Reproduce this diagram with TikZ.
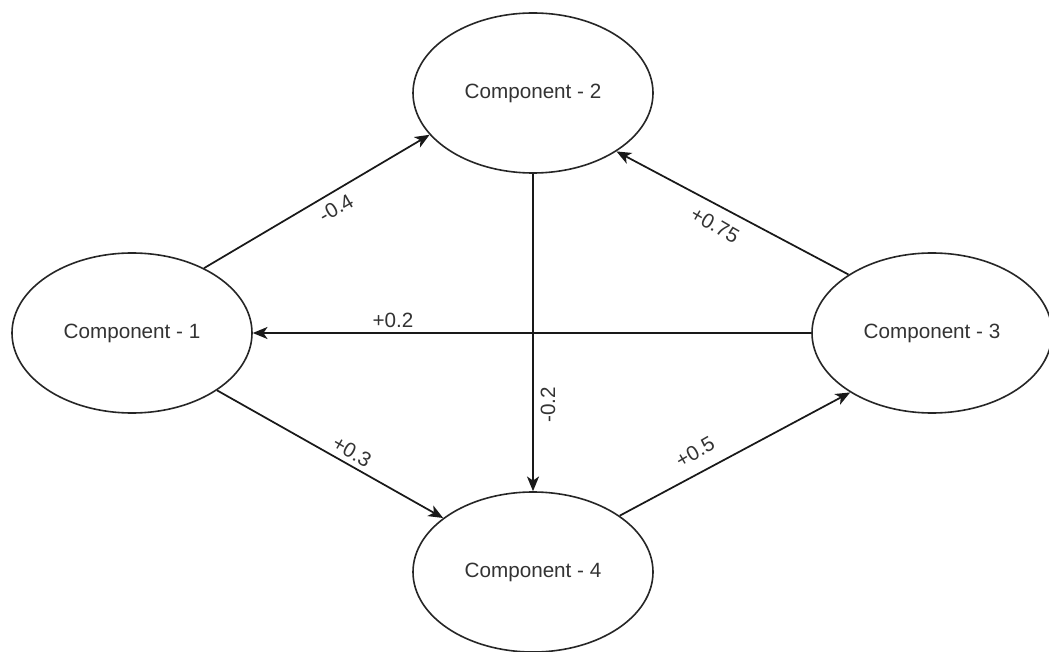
\documentclass[tikz,border=0pt]{standalone}
\usepackage{fontspec}
\setmainfont{Liberation Sans}
\usetikzlibrary{shapes.geometric,arrows.meta}
\begin{document}
\begin{tikzpicture}[x=0.75pt,y=-0.75pt,
  comp/.style={draw=black!85,line width=1.2pt,ellipse,minimum width=180pt,minimum height=120pt,inner sep=0pt,font=\fontsize{15.5pt}{18pt}\selectfont,text=black!80},
  conn/.style={draw=black!90,line width=1.3pt,-{Stealth[length=11pt,width=9pt,inset=3pt]}},
  wlab/.style={font=\fontsize{15.5pt}{18pt}\selectfont,text=black!80,inner sep=0pt}]
\useasboundingbox (0,0) rectangle (1049,652);
\fill[white] (0,0) rectangle (1049,652);
\node[comp] (c1) at (132,333) {Component - 1};
\node[comp] (c2) at (533,93) {Component - 2};
\node[comp] (c3) at (932,333) {Component - 3};
\node[comp] (c4) at (533,572) {Component - 4};
\draw[conn] (c1.42.1) -- (c2.202.4);
\draw[conn] (c3.145.7) -- (c2.-35.1);
\draw[conn] (c3.west) -- (c1.east);
\draw[conn] (c2.south) -- (c4.north);
\draw[conn] (c1.-34.9) -- (c4.149.6);
\draw[conn] (c4.33.2) -- (c3.216.2);
\node[wlab,rotate=30] (l1) at (336,208) {-0.4};
\node[wlab,rotate=-30] (l2) at (715,225) {+0.75};
\node[wlab] (l3) at (393,320) {+0.2};
\node[wlab,rotate=90] (l4) at (548,405) {-0.2};
\node[wlab,rotate=-30] (l5) at (352,452) {+0.3};
\node[wlab,rotate=30] (l6) at (695,452) {+0.5};
\end{tikzpicture}
\end{document}
